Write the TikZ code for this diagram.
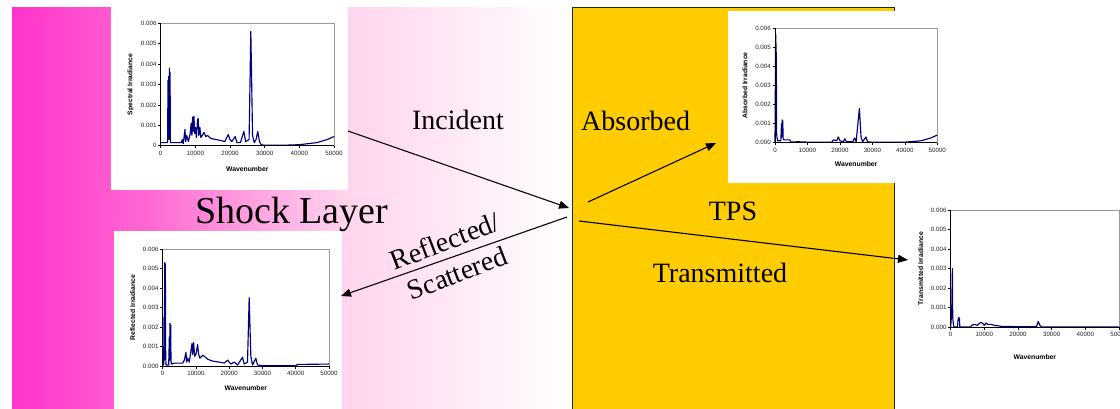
\documentclass[tikz,border=0pt]{standalone}
\usepackage{fontspec}
\setmainfont{Liberation Serif}
\newfontfamily\arialfont{Liberation Sans}
\usetikzlibrary{arrows.meta}
\definecolor{pkA}{RGB}{255,51,204}
\definecolor{pkB}{RGB}{255,105,210}
\definecolor{pkC}{RGB}{255,212,238}
\definecolor{tpsgold}{RGB}{255,204,0}
\definecolor{specnavy}{RGB}{0,0,128}
\tikzset{
  ticklab/.style={font=\arialfont\fontsize{6.2}{7}\selectfont, inner sep=0.5pt, text=black!85},
  axlab/.style={font=\arialfont\bfseries\fontsize{6.8}{8}\selectfont, inner sep=0pt},
  axisline/.style={black, line width=0.6pt},
  framegray/.style={black!40, line width=0.6pt},
  spec/.style={draw=specnavy, line width=1.15pt, line join=round},
  bigtext/.style={font=\fontsize{28}{34}\selectfont, inner sep=0pt},
  ray/.style={black, line width=1.1pt, -{Triangle[length=10pt,width=8pt]}},
}
% #1 name, #2 x0, #3 y0, #4 x unit, #5 y unit, #6 y label, #7 zero label, #8 x-label offset, #9 data
\newcommand{\specplot}[9]{%
\begin{scope}[shift={(#2,#3)},x=#4pt,y=#5pt]
  \draw[framegray] (0,6) -- (5,6) -- (5,0);
  \draw[spec] plot coordinates {#9};
  \draw[axisline] (0,6) -- (0,0) -- (5,0);
  \foreach \i in {0,...,6} \draw[axisline] (0,\i) -- ++(-2.5pt,0pt);
  \foreach \i in {0,...,5} \draw[axisline] (\i,0) -- ++(0pt,-2.5pt);
  \node[ticklab, anchor=east] (#1-y0) at ([xshift=-3.5pt]0,0) {#7};
  \foreach \i in {1,...,6} \node[ticklab, anchor=east] (#1-y\i) at ([xshift=-3.5pt]0,\i) {0.00\i};
  \foreach \i/\t in {0/0,1/10000,2/20000,3/30000,4/40000,5/50000}
    \node[ticklab, anchor=north] (#1-x\i) at ([yshift=-4.5pt]\i,0) {\t};
  \node[axlab] (#1-xl) at ([yshift=-#8pt]2.5,0) {Wavenumber};
  \node[axlab, rotate=90] (#1-yl) at ([xshift=-30pt]0,3) {#6};
\end{scope}}

\begin{document}
\begin{tikzpicture}[x=1pt,y=-1pt]
\clip (0,0) rectangle (1120,408);
\fill[white] (0,0) rectangle (1120,408);
% shock layer gradient
\fill[left color=pkA,right color=pkB] (12,7) rectangle (150.5,410);
\fill[left color=pkB,right color=pkC] (150,7) rectangle (345.5,410);
\fill[left color=pkC,right color=white] (345,7) rectangle (573,410);
% white chart boxes
\fill[white] (111,0) rectangle (348,190);
\fill[white] (114,231) rectangle (342,410);
% TPS
\draw[fill=tpsgold, draw=black!85, line width=1pt] (572,7) rectangle (894,420);
\fill[white] (728,11) rectangle (945,183);

% texts
\node[font=\fontsize{38}{44}\selectfont, inner sep=0pt, anchor=base west] (shock) at (195,223) {Shock Layer};
\node[bigtext, anchor=base] (inc) at (458,129) {Incident};
\node[bigtext, anchor=base west] (abs) at (581,130) {Absorbed};
\node[bigtext, anchor=base] (tps) at (733,220) {TPS};
\node[bigtext, anchor=base] (trans) at (720,282) {Transmitted};
\node[bigtext, align=center, rotate=21] (refl) at (451,257) {Reflected/\\Scattered};

% rays
\coordinate (incS) at (348,131);
\coordinate (incE) at (569,208);
\coordinate (refS) at (567,217);
\coordinate (refE) at (341,296);
\coordinate (absS) at (588,202);
\coordinate (absE) at (716,143);
\coordinate (traS) at (579,221);
\coordinate (traE) at (908,260);
\draw[ray] (incS) -- (incE);
\draw[ray] (refS) -- (refE);
\draw[ray] (absS) -- (absE);
\draw[ray] (traS) -- (traE);

% charts
\specplot{inc}{160.7}{145.7}{34.66}{20.4}{Spectral Irradiance}{0}{23}{%
(0,0.15) (0.2,0.15) (0.21,3.2) (0.22,0.3) (0.23,3.4) (0.24,0.5) (0.25,3.8) (0.26,0.3) (0.27,3.6) (0.28,0.15) (0.6,0.15) (0.62,0.3) (0.65,0.1) (0.68,0.5) (0.7,0.8) (0.72,0.2) (0.75,0.5) (0.8,0.2) (0.85,0.6) (0.88,1.1) (0.9,0.5) (0.92,1.4) (0.94,0.7) (0.96,1.45) (0.98,0.6) (1.0,0.9) (1.03,0.4) (1.06,1.2) (1.08,1.35) (1.1,0.5) (1.13,0.9) (1.16,0.4) (1.2,0.5) (1.25,0.65) (1.3,0.45) (1.35,0.5) (1.45,0.35) (1.6,0.3) (1.75,0.25) (1.85,0.2) (1.95,0.55) (2.0,0.3) (2.05,0.2) (2.15,0.45) (2.2,0.15) (2.3,0.15) (2.4,0.7) (2.45,0.2) (2.55,0.3) (2.6,5.6) (2.65,0.5) (2.7,0.15) (2.75,0.3) (2.8,0.7) (2.85,0.2) (2.9,0.05) (3.0,0.02) (3.5,0.02) (4.0,0.05) (4.5,0.15) (4.8,0.3) (5.0,0.45)}

\specplot{ref}{162.7}{366}{33.26}{19.5}{Reflected Irradiance}{0.000}{22}{%
(0,0) (0.03,0.1) (0.04,2.5) (0.05,0.3) (0.06,5.3) (0.08,5.2) (0.09,0.5) (0.1,0.05) (0.18,0.05) (0.2,1.5) (0.21,0.3) (0.22,2.2) (0.23,0.5) (0.24,2.1) (0.25,0.2) (0.27,0.1) (0.35,0.15) (0.6,0.15) (0.65,0.3) (0.7,0.7) (0.72,0.2) (0.75,0.4) (0.8,0.2) (0.85,0.8) (0.88,1.15) (0.9,0.6) (0.93,1.2) (0.96,0.5) (1.0,0.6) (1.05,1.1) (1.08,0.6) (1.12,0.4) (1.2,0.55) (1.25,0.5) (1.35,0.35) (1.5,0.25) (1.7,0.2) (1.85,0.15) (1.95,0.3) (2.05,0.1) (2.15,0.2) (2.25,0.05) (2.4,0.45) (2.45,0.1) (2.55,0.2) (2.6,3.5) (2.65,0.5) (2.7,0.05) (2.8,0.4) (2.85,0.05) (3.0,0.02) (4.0,0.02) (4.05,0.08) (5.0,0.1)}

\specplot{abs}{775}{142.7}{32.46}{19.07}{Absorbed Irradiance}{0.000}{21.3}{%
(0,0) (0.02,5.7) (0.04,4.5) (0.05,0.5) (0.06,0.3) (0.08,0.1) (0.18,0.1) (0.2,1.0) (0.21,0.3) (0.22,1.2) (0.23,0.4) (0.24,1.15) (0.25,0.2) (0.28,0.15) (0.45,0.15) (0.5,0.03) (0.7,0.05) (1.0,0.03) (1.75,0.03) (1.8,0.15) (1.9,0.1) (1.95,0.3) (2.0,0.1) (2.1,0.05) (2.15,0.2) (2.2,0.05) (2.4,0.05) (2.45,0.25) (2.5,0.05) (2.6,1.8) (2.65,0.3) (2.7,0.05) (2.8,0.3) (2.85,0.05) (3.0,0.02) (4.0,0.03) (4.5,0.1) (4.8,0.25) (5.0,0.4)}

\specplot{tra}{950.7}{327.3}{33.66}{19.55}{Transmitted Irradiance}{0.000}{29.4}{%
(0,0) (0.03,0.8) (0.05,3.0) (0.06,0.5) (0.08,0.15) (0.1,0.02) (0.2,0.02) (0.22,0.4) (0.24,0.5) (0.26,0.45) (0.27,0.02) (0.6,0.02) (0.62,0.1) (0.7,0.15) (0.8,0.1) (0.85,0.2) (0.9,0.25) (0.95,0.2) (1.0,0.1) (1.05,0.22) (1.1,0.15) (1.2,0.15) (1.3,0.1) (1.5,0.05) (2.0,0.03) (2.55,0.03) (2.6,0.3) (2.65,0.1) (2.7,0.02) (5.0,0.02)}
\end{tikzpicture}
\end{document}
